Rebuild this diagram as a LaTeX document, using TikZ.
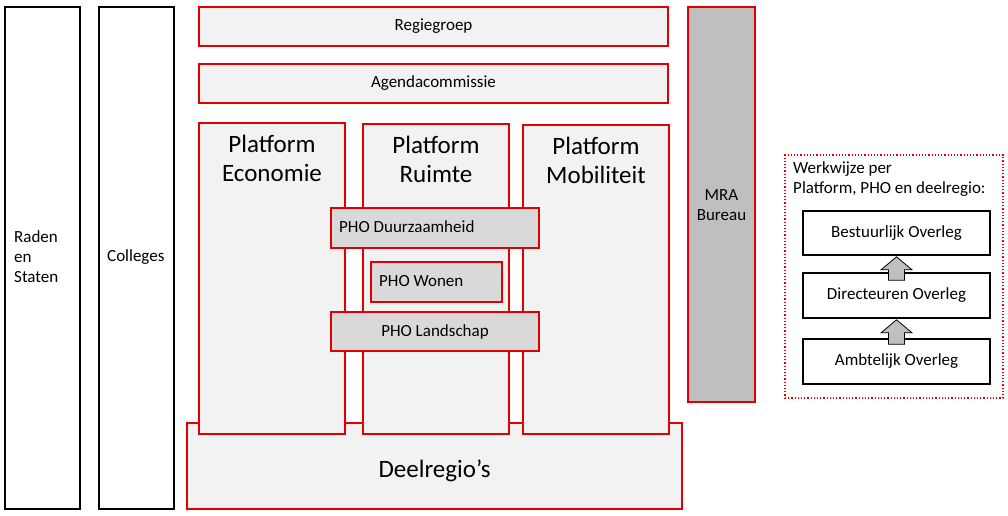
\documentclass[tikz,border=0pt]{standalone}
\usepackage{fontspec}
\setmainfont{Carlito}
\usetikzlibrary{calc}
\definecolor{rd}{HTML}{E00000}
\definecolor{lg}{HTML}{F2F2F2}
\definecolor{mg}{HTML}{D9D9D9}
\definecolor{dg}{HTML}{BFBFBF}
\tikzset{
  redbox/.style={draw=rd, line width=1.6pt, fill=lg, inner sep=0pt, font=\fontsize{17}{20}\selectfont},
  phobox/.style={draw=rd, line width=1.6pt, fill=mg, inner sep=0pt, font=\fontsize{17}{20}\selectfont},
  blackbox/.style={draw=black, line width=1.6pt, fill=white, inner sep=0pt, font=\fontsize{17}{20}\selectfont},
  bigtxt/.style={font=\fontsize{25}{29}\selectfont, align=center, inner sep=0pt},
  smalltxt/.style={font=\fontsize{17}{20}\selectfont, inner sep=0pt},
  uparrow/.style={draw=black, line width=0.8pt, fill=dg},
}
\begin{document}
\begin{tikzpicture}[x=1pt,y=-1pt]
\useasboundingbox (0,0) rectangle (1008,515);
% left columns
\node[blackbox, minimum width=75, minimum height=502] (raden) at (42.5,258) {};
\node[smalltxt, anchor=west, align=left] (radent) at (14,257) {Raden\\en\\Staten};
\node[blackbox, minimum width=75, minimum height=502] (colleges) at (136.5,258) {};
\node[smalltxt, anchor=west] (collegest) at (107,257) {Colleges};
% top bars
\node[redbox, minimum width=469, minimum height=39] (regie) at (433.5,26.5) {Regiegroep};
\node[redbox, minimum width=469, minimum height=39] (agenda) at (433.5,83.5) {Agendacommissie};
% deelregio
\node[redbox, minimum width=495, minimum height=86] (deel) at (434.5,466) {};
\node[bigtxt] (deelt) at (434.5,471) {Deelregio’s};
% platforms
\node[redbox, minimum width=146, minimum height=311] (eco) at (272,278.5) {};
\node[bigtxt] (ecot) at (272,158) {Platform\\Economie};
\node[redbox, minimum width=146, minimum height=310] (ruimte) at (436,279) {};
\node[bigtxt] (ruimtet) at (436,159) {Platform\\Ruimte};
\node[redbox, minimum width=146, minimum height=309] (mob) at (596,279.5) {};
\node[bigtxt] (mobt) at (596,160) {Platform\\Mobiliteit};
% PHO
\node[phobox, minimum width=208, minimum height=40] (duur) at (435,228) {};
\node[smalltxt, anchor=west] (duurt) at (339,227) {PHO Duurzaamheid};
\node[phobox, minimum width=131, minimum height=40] (wonen) at (436.5,282) {};
\node[smalltxt, anchor=west] (wonent) at (379,281) {PHO Wonen};
\node[phobox, minimum width=208, minimum height=39] (land) at (435,331.5) {PHO Landschap};
% MRA
\node[draw=rd, line width=1.6pt, fill=dg, minimum width=67, minimum height=395, inner sep=0pt] (mra) at (721.5,204.5) {};
\node[smalltxt, align=center] (mrat) at (721.5,205) {MRA\\Bureau};
% werkwijze
\node[draw=rd, line width=1.2pt, dotted, minimum width=218, minimum height=243, inner sep=0pt] (werk) at (894,276.5) {};
\node[smalltxt, anchor=north west, align=left] (werkt) at (793,161) {Werkwijze per\\Platform, PHO en deelregio:};
\node[blackbox, minimum width=187, minimum height=44] (best) at (896.5,233) {Bestuurlijk Overleg};
\node[blackbox, minimum width=187, minimum height=45] (dir) at (896.5,295.5) {Directeuren Overleg};
\node[blackbox, minimum width=187, minimum height=45] (amb) at (896.5,361.5) {Ambtelijk Overleg};
% arrows
\draw[uparrow] ($(dir.north)+(-8,8)$) -- ($(best.south)+(-8,14)$) -- ($(best.south)+(-15.5,14)$) -- ($(best.south)+(0,1)$) -- ($(best.south)+(15.5,14)$) -- ($(best.south)+(8,14)$) -- ($(dir.north)+(8,8)$) -- cycle;
\draw[uparrow] ($(amb.north)+(-8,6)$) -- ($(dir.south)+(-8,14)$) -- ($(dir.south)+(-15.5,14)$) -- ($(dir.south)+(0,1)$) -- ($(dir.south)+(15.5,14)$) -- ($(dir.south)+(8,14)$) -- ($(amb.north)+(8,6)$) -- cycle;
\end{tikzpicture}
\end{document}
